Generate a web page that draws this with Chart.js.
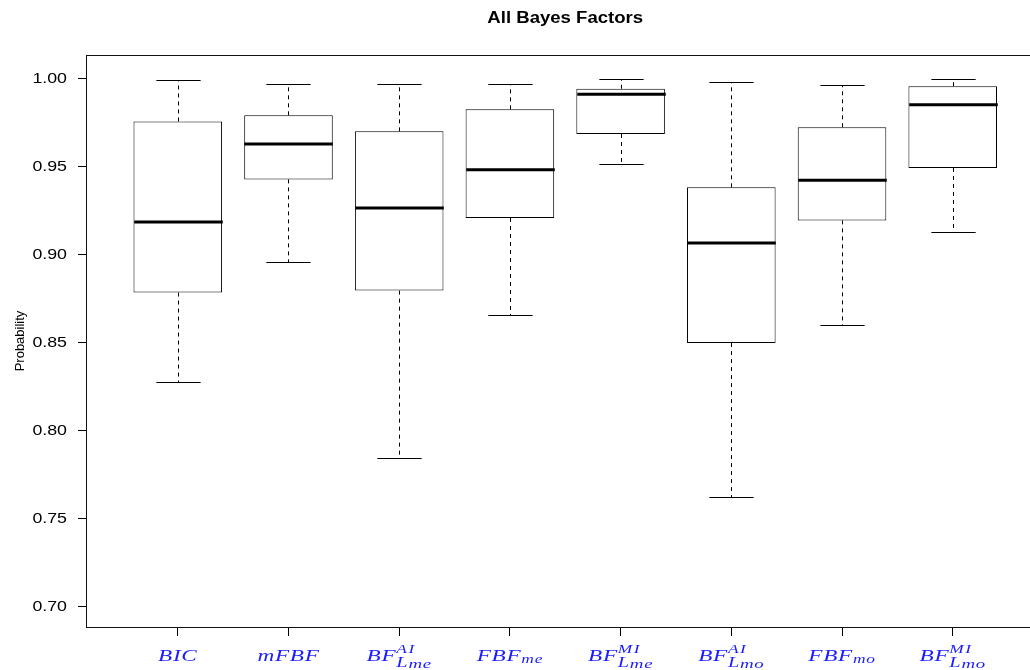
<!DOCTYPE html>
<html>
<head>
<meta charset="utf-8">
<title>All Bayes Factors</title>
<script src="https://cdn.jsdelivr.net/npm/chart.js@4.4.0/dist/chart.umd.min.js"></script>
<style>
  html, body { margin: 0; padding: 0; background: #fff; overflow: hidden; }
  #wrap { width: 1030px; height: 670px; overflow: hidden; }
  #box { width: 1060px; height: 670px; }
</style>
</head>
<body>
<div id="wrap"><div id="box"><canvas id="chart"></canvas></div></div>
<script>
const chartTitle = 'All Bayes Factors';

// categories and their math-style label parts
const categories = ['BIC', 'mFBF', 'BF_Lme^AI', 'FBF_me', 'BF_Lme^MI', 'BF_Lmo^AI', 'FBF_mo', 'BF_Lmo^MI'];
const labelBase = ['BIC', 'mFBF', 'BF', 'FBF', 'BF', 'BF', 'FBF', 'BF'];
const labelSup = ['', '', 'AI', '', 'MI', 'AI', '', 'MI'];
const labelSub = ['', '', 'L', 'me', 'L', 'L', 'mo', 'L'];
const labelSubSub = ['', '', 'me', '', 'me', 'mo', '', 'mo'];
const positions = [1, 2, 3, 4, 5, 6, 7, 8];

// box plot statistics
const whiskerLow = [0.8273, 0.8956, 0.7841, 0.8653, 0.9510, 0.7619, 0.8597, 0.9125];
const q1 = [0.8781, 0.9424, 0.8792, 0.9205, 0.9682, 0.8494, 0.9191, 0.9489];
const median = [0.9182, 0.9625, 0.9261, 0.9479, 0.9907, 0.9063, 0.9419, 0.9848];
const q3 = [0.9753, 0.9788, 0.9697, 0.9822, 0.9939, 0.9379, 0.9720, 0.9953];
const whiskerHigh = [0.9989, 0.9968, 0.9964, 0.9966, 0.9996, 0.9976, 0.9960, 0.9996];

const yTicks = [0.70, 0.75, 0.80, 0.85, 0.90, 0.95, 1.00];

const labelColor = '#1c1cff';
const sansFont = '"Liberation Sans", Arial, sans-serif';
const mathFont = '"Liberation Serif", "DejaVu Serif", serif';

// draw text stretched horizontally, returns drawn width
function wideText(ctx, text, x, y, font, sx, spacing) {
    if (!text) return 0;
    ctx.save();
    ctx.font = font;
    ctx.letterSpacing = (spacing || 0) + 'px';
    ctx.translate(x, y);
    ctx.scale(sx, 1);
    ctx.fillText(text, 0, 0);
    const w = ctx.measureText(text).width * sx;
    ctx.restore();
    return w;
}

function wideWidth(ctx, text, font, sx, spacing) {
    if (!text) return 0;
    ctx.save();
    ctx.font = font;
    ctx.letterSpacing = (spacing || 0) + 'px';
    const w = ctx.measureText(text).width * sx;
    ctx.restore();
    return w;
}

const boxExtras = {
    id: 'boxExtras',
    afterDatasetsDraw(chart) {
        const ctx = chart.ctx;
        const xs = chart.scales.x;
        const ys = chart.scales.y;
        const meta = chart.getDatasetMeta(0);
        ctx.save();
        positions.forEach((p, i) => {
            const x = Math.round(xs.getPixelForValue(p)) + 0.5;
            const half = meta.data[i].width / 2;
            const yLow = Math.round(ys.getPixelForValue(whiskerLow[i])) + 0.5;
            const yHigh = Math.round(ys.getPixelForValue(whiskerHigh[i])) + 0.5;
            const yQ1 = ys.getPixelForValue(q1[i]);
            const yQ3 = ys.getPixelForValue(q3[i]);
            const yMed = ys.getPixelForValue(median[i]);

            // dashed whiskers
            ctx.strokeStyle = '#000';
            ctx.lineWidth = 1;
            ctx.setLineDash([4, 4]);
            ctx.beginPath();
            ctx.moveTo(x, yQ3);
            ctx.lineTo(x, yHigh);
            ctx.moveTo(x, yQ1);
            ctx.lineTo(x, yLow);
            ctx.stroke();

            // whisker caps
            ctx.setLineDash([]);
            ctx.beginPath();
            ctx.moveTo(x - half / 2, yHigh);
            ctx.lineTo(x + half / 2, yHigh);
            ctx.moveTo(x - half / 2, yLow);
            ctx.lineTo(x + half / 2, yLow);
            ctx.stroke();

            // median
            ctx.lineWidth = 3;
            ctx.beginPath();
            ctx.moveTo(x - half, yMed);
            ctx.lineTo(x + half, yMed);
            ctx.stroke();
        });
        ctx.restore();
    },
    afterDraw(chart) {
        const ctx = chart.ctx;
        const area = chart.chartArea;
        const xs = chart.scales.x;
        const ys = chart.scales.y;
        ctx.save();

        // plot frame
        ctx.strokeStyle = '#111';
        ctx.lineWidth = 1;
        ctx.strokeRect(Math.round(area.left) - 0.5, Math.round(area.top) + 0.5,
            Math.round(area.right - area.left), Math.round(area.bottom - area.top));

        // title, centred over the plot region
        ctx.fillStyle = '#000';
        ctx.textAlign = 'center';
        ctx.textBaseline = 'alphabetic';
        wideText(ctx, chartTitle, (area.left + area.right) / 2, 23, 'bold 16px ' + sansFont, 1.16);

        // y tick labels
        ctx.textAlign = 'right';
        ctx.textBaseline = 'middle';
        yTicks.forEach(v => {
            wideText(ctx, v.toFixed(2), area.left - 20, ys.getPixelForValue(v) + 1.5, '14px ' + sansFont, 1.27);
        });

        // x labels in math style
        ctx.fillStyle = labelColor;
        ctx.textAlign = 'left';
        ctx.textBaseline = 'alphabetic';
        const y0 = area.bottom + 34;
        const sx = 1.45;
        const baseFont = 'italic 16px ' + mathFont;
        const supFont = 'italic 12px ' + mathFont;
        const subFont = 'italic 14px ' + mathFont;
        const subSubFont = 'italic 13px ' + mathFont;
        positions.forEach((p, i) => {
            const cx = xs.getPixelForValue(p);
            const wb = wideWidth(ctx, labelBase[i], baseFont, sx, 0.5);
            const wsup = wideWidth(ctx, labelSup[i], supFont, sx, 1);
            const wsub = wideWidth(ctx, labelSub[i], labelSup[i] ? subFont : supFont, sx, 0.5);
            const wss = wideWidth(ctx, labelSubSub[i], subSubFont, sx, 0.5);
            const total = wb + Math.max(wsup, wsub + wss);
            const x0 = cx - total / 2;
            wideText(ctx, labelBase[i], x0, y0, baseFont, sx, 0.5);
            if (labelSup[i]) {
                wideText(ctx, labelSup[i], x0 + wb, y0 - 8, supFont, sx, 1);
                wideText(ctx, labelSub[i], x0 + wb, y0 + 6, subFont, sx, 0.5);
                wideText(ctx, labelSubSub[i], x0 + wb + wsub, y0 + 7, subSubFont, sx, 0.5);
            } else if (labelSub[i]) {
                wideText(ctx, labelSub[i], x0 + wb, y0 + 2, supFont, sx, 0.5);
            }
        });
        ctx.restore();
    }
};

const ctx = document.getElementById('chart').getContext('2d');
const boxChart = new Chart(ctx, {
    type: 'bar',
    data: {
        datasets: [{
            label: chartTitle,
            data: positions.map((p, i) => ({ x: p, y: [q1[i], q3[i]] })),
            backgroundColor: '#fff',
            borderColor: '#000',
            borderWidth: 1,
            borderSkipped: false,
            barPercentage: 1.0,
            categoryPercentage: 0.8
        }]
    },
    options: {
        responsive: true,
        maintainAspectRatio: false,
        animation: false,
        layout: {
            padding: { left: 0, right: 16.5, top: 55, bottom: 0 }
        },
        plugins: {
            legend: { display: false },
            tooltip: { enabled: false },
            title: { display: false }
        },
        scales: {
            x: {
                type: 'linear',
                offset: false,
                min: 0.18,
                max: 8.82,
                afterBuildTicks: scale => { scale.ticks = positions.map(v => ({ value: v })); },
                afterFit: scale => { scale.height = 43; },
                ticks: { display: false },
                grid: { offset: false, drawOnChartArea: false, drawTicks: true, tickLength: 9, color: '#000' },
                border: { display: false }
            },
            y: {
                type: 'linear',
                min: 0.68807,
                max: 1.01307,
                afterBuildTicks: scale => { scale.ticks = yTicks.map(v => ({ value: v })); },
                afterFit: scale => { scale.width = 87; },
                ticks: { display: false },
                grid: { drawOnChartArea: false, drawTicks: true, tickLength: 9, color: '#000' },
                border: { display: false },
                title: {
                    display: true,
                    text: 'Probability',
                    color: '#000',
                    font: { family: sansFont, size: 13 },
                    padding: { top: 13, bottom: 0 }
                }
            }
        }
    },
    plugins: [boxExtras]
});
</script>
</body>
</html>
